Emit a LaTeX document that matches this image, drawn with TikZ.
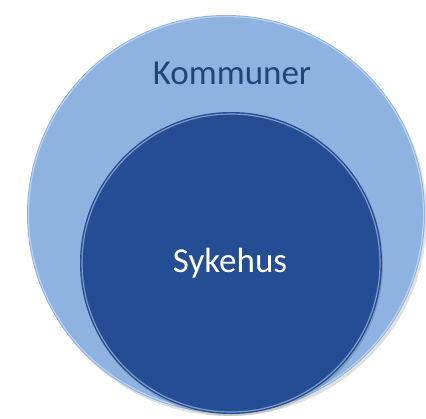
\documentclass[tikz,border=0pt]{standalone}
\usepackage{fontspec}
\setmainfont{Carlito}
\definecolor{outerBlue}{HTML}{8EB3E0}
\definecolor{innerBlue}{HTML}{244D94}
\definecolor{rimBlue}{HTML}{B9D0EE}
\definecolor{labelBlue}{HTML}{1F4677}
\newcommand{\outerCircle}{%%
  %% Draw the large circle.
  \fill[shadowStyle] (outerCentre) ++(2,3) circle[radius=\outerRadius];
  \fill[outerStyle] (outerCentre) circle[radius=\outerRadius];
  \draw[rimStyle] (outerCentre) circle[radius=\outerRadius-1.5];
}
\newcommand{\innerCircle}{%%
  %% Draw the small circle.
  \fill[shadowStyle] (innerCentre) ++(1,2) circle[radius=\innerRadius];
  \fill[innerStyle] (innerCentre) circle[radius=\innerRadius];
  \draw[rimStyle,opacity=0.6] (innerCentre) circle[radius=\innerRadius-2];
}

\begin{document}
\begin{tikzpicture}[x=1pt,y=-1pt,%%
  outerStyle/.style={fill=outerBlue},%%
  innerStyle/.style={fill=innerBlue},%%
  rimStyle/.style={draw=rimBlue,line width=1.2pt},%%
  shadowStyle/.style={fill=black,opacity=0.12},%%
  labelStyle/.style={font=\fontsize{35}{40}\selectfont,inner sep=0pt}
]
\useasboundingbox (0,0) rectangle (426,418);
%%
\pgfmathsetmacro{\outerRadius}{199}
\pgfmathsetmacro{\innerRadius}{151}
\coordinate (outerCentre) at (226,214);
\coordinate (innerCentre) at (231,263);
%%
\outerCircle
\innerCircle
%% Labels.
\node[labelStyle,text=labelBlue] (kommuner) at (232,73) {Kommuner};
\node[labelStyle,text=white] (sykehus) at (230,263) {Sykehus};
\end{tikzpicture}
\end{document}
